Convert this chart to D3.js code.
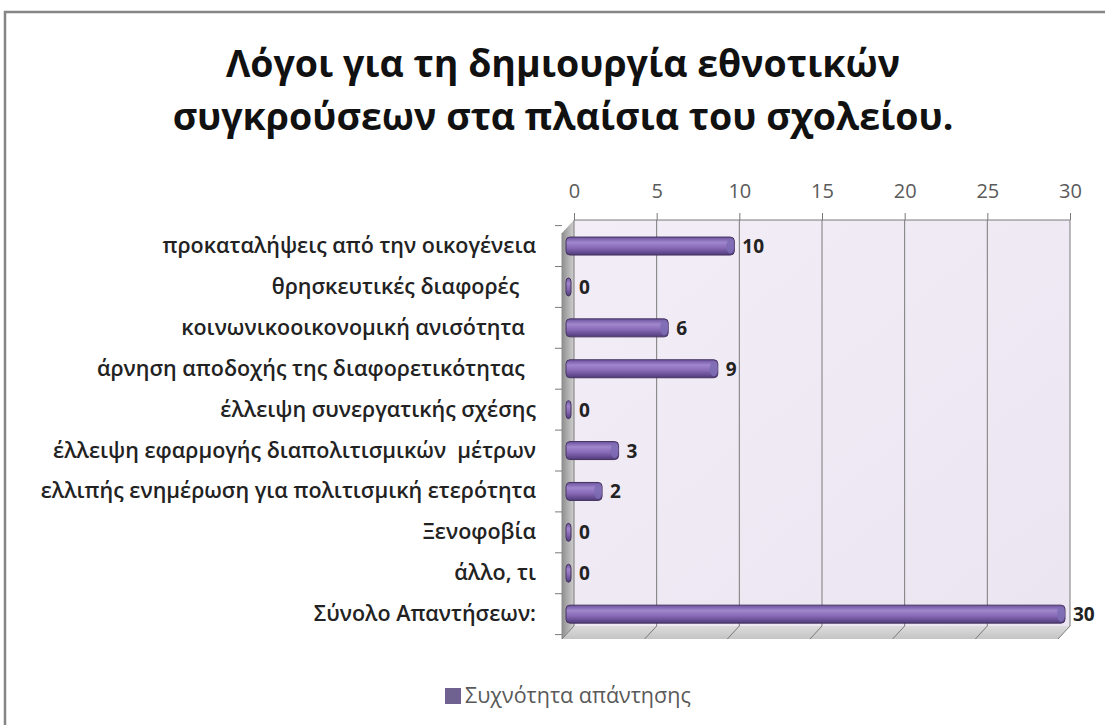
<!DOCTYPE html>
<html>
<head>
<meta charset="utf-8">
<script src="https://cdn.jsdelivr.net/npm/d3@7"></script>
<style>
    body { margin: 0; background: #fff; }
    svg { display: block; font-family: "Open Sans", "Noto Sans", sans-serif; }
</style>
</head>
<body>
<svg id="chart" width="1105" height="725"></svg>
<script>
// Data
const categories = [
    'προκαταλήψεις από την οικογένεια',
    'θρησκευτικές διαφορές   ',
    'κοινωνικοοικονομική ανισότητα  ',
    'άρνηση αποδοχής της διαφορετικότητας  ',
    'έλλειψη συνεργατικής σχέσης',
    'έλλειψη εφαρμογής διαπολιτισμικών  μέτρων',
    'ελλιπής ενημέρωση για πολιτισμική ετερότητα',
    'Ξενοφοβία',
    'άλλο, τι',
    'Σύνολο Απαντήσεων:'
];
const values = [10, 0, 6, 9, 0, 3, 2, 0, 0, 30];
const xTicks = [0, 5, 10, 15, 20, 25, 30];
const titleLines = ['Λόγοι για τη δημιουργία εθνοτικών', 'συγκρούσεων στα πλαίσια του σχολείου.'];
const seriesName = 'Συχνότητα απάντησης';

/**
 * Visual configs.
 */
const plot = { left: 574, right: 1070, top: 220, bottom: 626 },
    depth = { dx: -12, dy: 13 },
    barHeight = 18;

const svg = d3.select('#chart');
const defs = svg.append('defs');

const x = d3.scaleLinear().domain([0, 30]).range([plot.left, plot.right]);
const y = d3.scaleBand().domain(categories).range([225.6, 634.6]);

// Gradients
const wallGrad = defs.append('linearGradient').attr('id', 'wall').attr('x1', 0).attr('y1', 0).attr('x2', 1).attr('y2', 1);
wallGrad.append('stop').attr('offset', 0).attr('stop-color', '#f2edf6');
wallGrad.append('stop').attr('offset', 1).attr('stop-color', '#ebe5f1');

const sideGrad = defs.append('linearGradient').attr('id', 'side').attr('x1', 0).attr('x2', 1);
sideGrad.append('stop').attr('offset', 0).attr('stop-color', '#8f8f8f');
sideGrad.append('stop').attr('offset', 1).attr('stop-color', '#cfcfcf');

const floorGrad = defs.append('linearGradient').attr('id', 'floor').attr('x1', 0).attr('y1', 0).attr('x2', 0).attr('y2', 1);
floorGrad.append('stop').attr('offset', 0).attr('stop-color', '#dcdcdc');
floorGrad.append('stop').attr('offset', 1).attr('stop-color', '#c4c4c4');

const barGrad = defs.append('linearGradient').attr('id', 'bar').attr('x1', 0).attr('y1', 0).attr('x2', 0).attr('y2', 1);
barGrad.append('stop').attr('offset', 0).attr('stop-color', '#6c529e');
barGrad.append('stop').attr('offset', 0.3).attr('stop-color', '#a087cd');
barGrad.append('stop').attr('offset', 0.6).attr('stop-color', '#8869b6');
barGrad.append('stop').attr('offset', 1).attr('stop-color', '#503b7a');

// Outer chart frame
svg.append('rect')
    .attr('x', 5).attr('y', 12)
    .attr('width', 1110).attr('height', 730)
    .attr('fill', '#fff')
    .attr('stroke', '#858585')
    .attr('stroke-width', 2.5);

// Title
svg.append('text')
    .attr('x', 563).attr('y', 77)
    .attr('text-anchor', 'middle')
    .style('font-size', '37.5px').style('font-weight', 700).attr('fill', '#111')
    .selectAll('tspan').data(titleLines).join('tspan')
        .attr('x', 563)
        .attr('dy', (d, i) => i ? 53 : 0)
        .text(d => d);

// Back wall
svg.append('rect')
    .attr('x', plot.left).attr('y', plot.top)
    .attr('width', plot.right - plot.left).attr('height', plot.bottom - plot.top)
    .attr('fill', 'url(#wall)');

// Side wall and floor
svg.append('path')
    .attr('d', `M${plot.left},${plot.top}L${plot.left + depth.dx},${plot.top + depth.dy}L${plot.left + depth.dx},${plot.bottom + depth.dy}L${plot.left},${plot.bottom}Z`)
    .attr('fill', 'url(#side)');
svg.append('path')
    .attr('d', `M${plot.left},${plot.bottom}L${plot.right},${plot.bottom}L${plot.right + depth.dx},${plot.bottom + depth.dy}L${plot.left + depth.dx},${plot.bottom + depth.dy}Z`)
    .attr('fill', 'url(#floor)');

// Gridlines
svg.append('g').selectAll('path').data(xTicks).join('path')
    .attr('d', d => `M${x(d)},${plot.top}L${x(d)},${plot.bottom}l${depth.dx},${depth.dy}`)
    .attr('fill', 'none')
    .attr('stroke', '#7a7a7a')
    .attr('stroke-width', 1);

svg.append('line')
    .attr('x1', plot.left).attr('x2', plot.right)
    .attr('y1', plot.top).attr('y2', plot.top)
    .attr('stroke', '#7a7a7a');

// Top axis
const xAxis = svg.append('g')
    .attr('transform', `translate(0,${plot.top})`)
    .call(d3.axisTop(x).tickValues(xTicks).tickSize(7).tickPadding(15));
xAxis.select('.domain').remove();
xAxis.selectAll('.tick line').attr('stroke', '#7a7a7a');
xAxis.selectAll('text')
    .style('font-size', '20px')
    .style('font-family', '"Open Sans", sans-serif')
    .attr('fill', '#5a5a5a');

// Left axis (category ticks on the front edge)
const boundaries = categories.map(c => y(c)).concat([y.range()[1]]);
svg.append('line')
    .attr('x1', plot.left + depth.dx).attr('x2', plot.left + depth.dx)
    .attr('y1', plot.top + depth.dy).attr('y2', plot.bottom + depth.dy)
    .attr('stroke', '#8c8c8c');
svg.append('g').selectAll('line').data(boundaries).join('line')
    .attr('x1', plot.left + depth.dx - 7).attr('x2', plot.left + depth.dx)
    .attr('y1', d => d).attr('y2', d => d)
    .attr('stroke', '#7a7a7a');

svg.append('g').selectAll('text').data(categories).join('text')
    .attr('x', 536)
    .attr('y', d => y(d) + y.bandwidth() / 2 + 7)
    .attr('text-anchor', 'end')
    .style('white-space', 'pre')
    .style('font-size', '21.5px').style('font-weight', 600)
    .attr('fill', '#222')
    .text(d => d);

// Bars (cylinders)
const barStart = 566;
const barEnd = d => Math.max(barStart + 5, x(d) - 5);
const bars = svg.append('g').selectAll('g').data(values).join('g')
    .attr('transform', (d, i) => `translate(0,${y(categories[i]) + y.bandwidth() / 2 - barHeight / 2})`);

bars.append('rect')
    .attr('x', barStart)
    .attr('width', d => barEnd(d) - barStart)
    .attr('height', barHeight)
    .attr('rx', 4)
    .attr('fill', 'url(#bar)')
    .attr('stroke', '#45335f')
    .attr('stroke-width', 1);

bars.append('ellipse')
    .attr('cx', d => barEnd(d) - 4)
    .attr('cy', barHeight / 2)
    .attr('rx', 4).attr('ry', barHeight / 2 - 1.5)
    .attr('fill', '#7c6cb4')
    .attr('opacity', d => d > 0 ? 0.85 : 0);

// Value labels
bars.append('text')
    .attr('x', d => barEnd(d) + 8)
    .attr('y', barHeight / 2 + 7)
    .style('font-size', '19px').style('font-weight', 700)
    .attr('fill', '#222')
    .text(d => d);

// Legend
const legend = svg.append('g').attr('transform', 'translate(445,688)');
legend.append('rect')
    .attr('width', 16).attr('height', 16)
    .attr('fill', '#6f6290');
legend.append('text')
    .attr('x', 20).attr('y', 15)
    .style('font-size', '21.5px')
    .attr('fill', '#595959')
    .text(seriesName);
</script>
</body>
</html>
